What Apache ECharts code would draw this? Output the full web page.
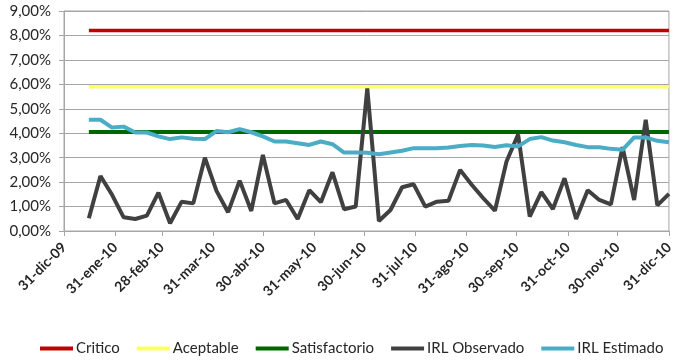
<!DOCTYPE html>
<html>
<head>
<meta charset="utf-8">
<script src="https://cdn.jsdelivr.net/npm/echarts@6/dist/echarts.min.js"></script>
<style>
  html, body { margin: 0; padding: 0; background: #fff; }
  #chart { width: 676px; height: 360px; }
</style>
</head>
<body>
<div id="chart"></div>
<script>
// fechas semanales (viernes)
var weekDates = [
  '2010-01-15','2010-01-22','2010-01-29','2010-02-05','2010-02-12','2010-02-19','2010-02-26',
  '2010-03-05','2010-03-12','2010-03-19','2010-03-26','2010-04-02','2010-04-09','2010-04-16',
  '2010-04-23','2010-04-30','2010-05-07','2010-05-14','2010-05-21','2010-05-28','2010-06-04',
  '2010-06-11','2010-06-18','2010-06-25','2010-07-02','2010-07-09','2010-07-16','2010-07-23',
  '2010-07-30','2010-08-06','2010-08-13','2010-08-20','2010-08-27','2010-09-03','2010-09-10',
  '2010-09-17','2010-09-24','2010-10-01','2010-10-08','2010-10-15','2010-10-22','2010-10-29',
  '2010-11-05','2010-11-12','2010-11-19','2010-11-26','2010-12-03','2010-12-10','2010-12-17',
  '2010-12-24','2010-12-31'
];

// umbrales (%)
var critico = 8.2;
var aceptable = 5.9;
var satisfactorio = 4.05;

// IRL observado (%)
var irlObservado = [
  0.52, 2.25, 1.48, 0.56, 0.49, 0.63, 1.57, 0.32, 1.20, 1.13, 3.00, 1.64, 0.77, 2.06,
  0.82, 3.11, 1.13, 1.27, 0.49, 1.67, 1.18, 2.40, 0.89, 1.00, 5.83, 0.41, 0.86, 1.79,
  1.91, 1.00, 1.20, 1.24, 2.50, 1.89, 1.34, 0.83, 2.84, 3.95, 0.59, 1.59, 0.90, 2.16,
  0.49, 1.67, 1.27, 1.09, 3.43, 1.27, 4.55, 1.05, 1.52
];

// IRL estimado (%)
var irlEstimado = [
  4.55, 4.55, 4.23, 4.27, 4.03, 4.03, 3.87, 3.76, 3.83, 3.77, 3.76, 4.09, 4.04, 4.17,
  4.04, 3.87, 3.66, 3.66, 3.59, 3.52, 3.66, 3.55, 3.21, 3.21, 3.20, 3.14, 3.21, 3.28,
  3.39, 3.39, 3.39, 3.42, 3.48, 3.52, 3.50, 3.44, 3.51, 3.46, 3.76, 3.84, 3.70, 3.63,
  3.52, 3.43, 3.43, 3.36, 3.32, 3.83, 3.83, 3.69, 3.63
];

// marcas del eje x (fin de mes)
var tickDates = [
  '2009-12-31','2010-01-31','2010-02-28','2010-03-31','2010-04-30','2010-05-31','2010-06-30',
  '2010-07-31','2010-08-31','2010-09-30','2010-10-31','2010-11-30','2010-12-31'
];
var tickLabels = [
  '31-dic-09','31-ene-10','28-feb-10','31-mar-10','30-abr-10','31-may-10','30-jun-10',
  '31-jul-10','31-ago-10','30-sep-10','31-oct-10','30-nov-10','31-dic-10'
];

// dias desde 31-dic-09
function toDay(s) {
  var p = s.split('-');
  var t = Date.UTC(+p[0], +p[1] - 1, +p[2]);
  return Math.round((t - Date.UTC(2009, 11, 31)) / 86400000);
}
var tickDays = tickDates.map(toDay);

function pair(vals) {
  var out = [];
  for (var i = 0; i < weekDates.length; i++) {
    out.push([toDay(weekDates[i]), Array.isArray(vals) ? vals[i] : vals]);
  }
  return out;
}

var chart = echarts.init(document.getElementById('chart'));
var font = 'Lato, "Liberation Sans", sans-serif';

var option = {
  animation: false,
  backgroundColor: '#fff',
  grid: {
    left: 64, right: 3, top: 11, bottom: 129,
    show: true, borderColor: '#a6a6a6', borderWidth: 1
  },
  legend: {
    top: 341,
    left: 40,
    width: 636,
    padding: 0,
    itemWidth: 33,
    itemHeight: 4,
    itemGap: 17,
    icon: 'rect',
    textStyle: { fontFamily: font, fontSize: 15, color: '#262626', padding: [0, 0, 0, -2] },
    data: ['Critico', 'Aceptable', 'Satisfactorio', 'IRL Observado', 'IRL Estimado']
  },
  xAxis: {
    type: 'value',
    min: 0,
    max: 365,
    splitLine: { show: false },
    axisLine: { lineStyle: { color: '#a6a6a6' } },
    axisTick: { show: true, length: 5, customValues: tickDays, lineStyle: { color: '#a6a6a6' } },
    axisLabel: {
      customValues: tickDays,
      rotate: 45,
      margin: 14,
      fontFamily: font,
      fontSize: 14,
      fontWeight: 'bold',
      color: '#262626',
      formatter: function (v) {
        var i = tickDays.indexOf(Math.round(v));
        return i >= 0 ? tickLabels[i] : '';
      }
    }
  },
  yAxis: {
    type: 'value',
    min: 0, max: 9, interval: 1,
    axisLine: { show: true, lineStyle: { color: '#a6a6a6' } },
    axisTick: { show: true, length: 5, lineStyle: { color: '#a6a6a6' } },
    splitLine: { lineStyle: { color: '#a6a6a6' } },
    axisLabel: {
      fontFamily: font, fontSize: 15, color: '#262626', margin: 13,
      formatter: function (v) { return v.toFixed(2).replace('.', ',') + '%'; }
    }
  },
  series: [
    { name: 'Critico', type: 'line', showSymbol: false, data: pair(critico),
      color: '#c00000', lineStyle: { width: 3.5 } },
    { name: 'Aceptable', type: 'line', showSymbol: false, data: pair(aceptable),
      color: '#ffff66', lineStyle: { width: 3.5 } },
    { name: 'Satisfactorio', type: 'line', showSymbol: false, data: pair(satisfactorio),
      color: '#006600', lineStyle: { width: 4 } },
    { name: 'IRL Observado', type: 'line', showSymbol: false, data: pair(irlObservado),
      color: '#404040', lineStyle: { width: 4 } },
    { name: 'IRL Estimado', type: 'line', showSymbol: false, data: pair(irlEstimado),
      color: '#4bacc6', lineStyle: { width: 4 } }
  ]
};
chart.setOption(option);
</script>
</body>
</html>
